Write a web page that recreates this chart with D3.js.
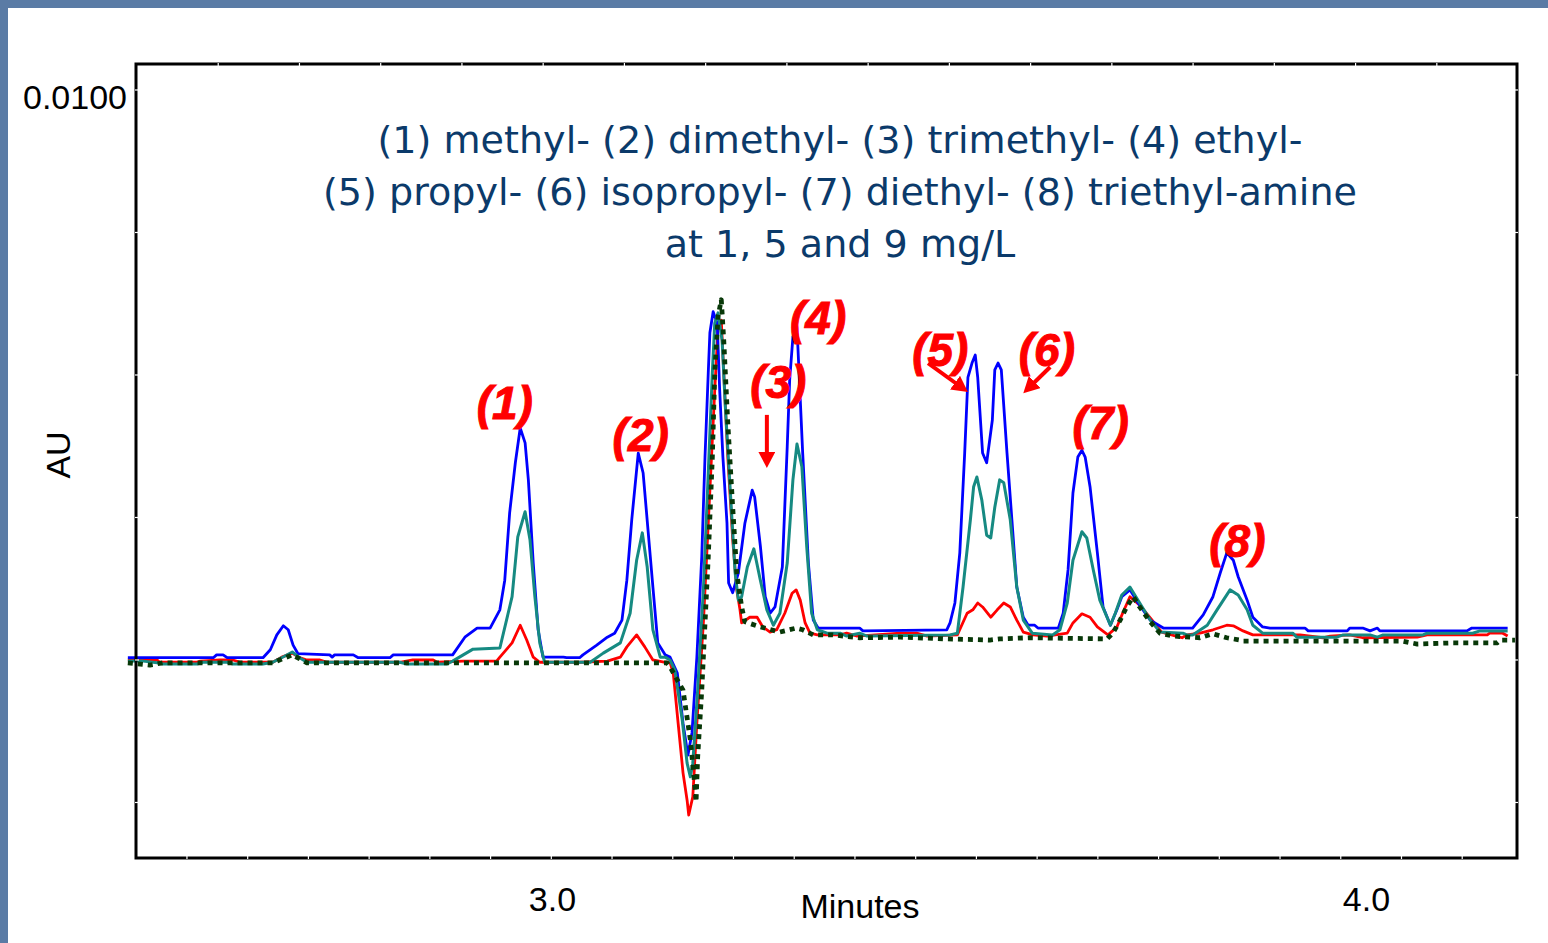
<!DOCTYPE html>
<html><head><meta charset="utf-8">
<script src="https://cdn.jsdelivr.net/npm/d3@7"></script>
<style>html,body{margin:0;padding:0;background:#5a7ba5;overflow:hidden;} svg{display:block;}</style>
</head><body>
<svg id="chart" width="1548" height="943"></svg>
<script>
// ---- DATA (time in minutes, absorbance in mAU) ----
const titleLines = [
  "(1) methyl- (2) dimethyl- (3) trimethyl- (4) ethyl-",
  "(5) propyl- (6) isopropyl- (7) diethyl- (8) triethyl-amine",
  "at 1, 5 and 9 mg/L"
];
const xLabelTicks = [3.0, 4.0];
const yLabelTicks = [10];
const yTickMarks = [-2.5, 0, 2.5, 5, 7.5, 10];
const xDomain = [2.489, 4.1855];
const yDomain = [-3.474, 10.456];

// 9 mg/L (blue)
const conc9 = [
 [2.479,0.04],[2.584,0.04],[2.588,0.09],[2.596,0.09],[2.601,0.04],[2.645,0.04],[2.654,0.18],[2.662,0.44],
 [2.670,0.60],[2.676,0.53],[2.682,0.26],[2.688,0.11],[2.727,0.09],[2.730,0.05],[2.733,0.09],[2.756,0.09],
 [2.762,0.04],[2.801,0.04],[2.805,0.09],[2.878,0.09],[2.893,0.40],[2.908,0.56],[2.924,0.56],[2.936,0.88],
 [2.942,1.40],[2.948,2.58],[2.955,3.46],[2.961,4.07],[2.967,3.81],[2.971,3.16],[2.977,1.70],[2.983,0.53],
 [2.989,0.05],[3.014,0.05],[3.018,0.04],[3.034,0.04],[3.038,0.09],[3.055,0.26],[3.068,0.40],[3.077,0.47],
 [3.086,0.70],[3.092,1.40],[3.098,2.46],[3.106,3.63],[3.112,3.28],[3.118,2.28],[3.124,1.28],[3.130,0.30],
 [3.139,0.09],[3.145,0.05],[3.154,-0.23],[3.161,-1.11],[3.167,-1.67],[3.172,-1.28],[3.178,0.05],[3.184,1.81],
 [3.188,3.56],[3.192,5.04],[3.194,5.74],[3.198,6.11],[3.203,5.91],[3.206,4.74],[3.210,3.56],[3.215,2.40],
 [3.217,1.35],[3.222,1.18],[3.229,1.53],[3.237,2.40],[3.246,2.98],[3.249,2.86],[3.256,2.00],[3.262,1.11],
 [3.268,0.82],[3.274,0.93],[3.283,1.63],[3.289,3.74],[3.292,4.91],[3.296,5.67],[3.301,5.84],[3.303,5.21],
 [3.308,3.63],[3.315,1.70],[3.321,0.70],[3.327,0.56],[3.378,0.56],[3.382,0.51],[3.485,0.53],[3.489,0.65],
 [3.495,1.00],[3.501,1.88],[3.507,3.63],[3.511,4.96],[3.516,5.21],[3.520,5.35],[3.523,4.96],[3.529,3.63],
 [3.534,3.46],[3.541,4.21],[3.544,5.09],[3.548,5.21],[3.552,5.09],[3.559,3.63],[3.565,2.46],[3.571,1.28],
 [3.579,0.75],[3.585,0.61],[3.593,0.61],[3.597,0.56],[3.622,0.56],[3.628,0.82],[3.634,1.58],[3.640,2.93],
 [3.646,3.56],[3.651,3.68],[3.655,3.56],[3.661,3.04],[3.670,1.88],[3.677,0.93],[3.686,0.61],[3.694,0.88],
 [3.700,1.11],[3.710,1.23],[3.720,1.00],[3.735,0.70],[3.751,0.56],[3.787,0.56],[3.800,0.79],[3.812,1.11],
 [3.821,1.53],[3.829,1.88],[3.837,1.75],[3.843,1.46],[3.854,1.05],[3.861,0.75],[3.873,0.58],[3.882,0.56],
 [3.925,0.56],[3.929,0.51],[3.977,0.51],[3.980,0.56],[3.996,0.56],[4.005,0.51],[4.014,0.56],[4.017,0.51],
 [4.124,0.51],[4.130,0.56],[4.174,0.56]
];

// 5 mg/L (teal)
const conc5 = [
 [2.479,-0.02],[2.498,-0.02],[2.515,-0.05],[2.522,-0.07],[2.564,-0.07],[2.571,-0.04],[2.601,-0.04],[2.608,-0.07],
 [2.645,-0.07],[2.657,-0.04],[2.668,0.04],[2.681,0.14],[2.690,0.04],[2.699,-0.04],[2.813,-0.04],[2.822,-0.07],
 [2.871,-0.07],[2.878,-0.02],[2.891,0.09],[2.903,0.19],[2.936,0.21],[2.951,1.11],[2.958,2.16],[2.967,2.60],
 [2.973,2.11],[2.979,1.11],[2.985,0.30],[2.991,-0.04],[3.047,-0.04],[3.063,0.12],[3.084,0.30],[3.096,0.82],
 [3.104,1.75],[3.111,2.23],[3.117,1.63],[3.124,0.53],[3.133,0.05],[3.139,0.05],[3.145,0.00],[3.151,-0.18],
 [3.160,-1.05],[3.166,-1.81],[3.170,-2.05],[3.173,-1.81],[3.179,-0.53],[3.186,1.23],[3.192,3.28],[3.197,5.04],
 [3.200,5.91],[3.204,6.09],[3.209,5.61],[3.213,4.44],[3.219,2.98],[3.225,1.53],[3.229,1.05],[3.233,1.11],
 [3.240,1.63],[3.248,1.95],[3.256,1.40],[3.264,0.88],[3.272,0.61],[3.280,0.82],[3.289,1.70],[3.296,3.16],
 [3.301,3.79],[3.307,3.39],[3.313,1.98],[3.319,0.82],[3.326,0.53],[3.338,0.47],[3.354,0.47],[3.362,0.42],
 [3.378,0.47],[3.387,0.42],[3.489,0.44],[3.498,0.47],[3.505,1.28],[3.514,2.46],[3.518,3.04],[3.522,3.21],
 [3.528,2.81],[3.534,2.19],[3.539,2.14],[3.544,2.68],[3.550,3.16],[3.555,3.11],[3.563,2.46],[3.571,1.28],
 [3.579,0.70],[3.590,0.47],[3.615,0.44],[3.624,0.53],[3.633,1.00],[3.640,1.75],[3.651,2.25],[3.657,2.14],
 [3.665,1.58],[3.673,1.05],[3.686,0.61],[3.692,0.82],[3.700,1.14],[3.710,1.28],[3.722,1.00],[3.735,0.70],
 [3.747,0.49],[3.775,0.47],[3.780,0.44],[3.787,0.44],[3.805,0.61],[3.817,0.88],[3.833,1.23],[3.843,1.14],
 [3.854,0.88],[3.861,0.61],[3.873,0.47],[3.910,0.47],[3.915,0.40],[3.964,0.40],[3.972,0.44],[4.005,0.44],
 [4.014,0.40],[4.021,0.44],[4.070,0.44],[4.075,0.47],[4.131,0.47],[4.140,0.51],[4.174,0.51]
];

// 1 mg/L (red)
const conc1 = [
 [2.479,0.00],[2.515,0.00],[2.518,-0.04],[2.564,-0.04],[2.568,-0.02],[2.592,0.00],[2.608,0.00],[2.617,-0.04],
 [2.657,-0.04],[2.668,0.05],[2.681,0.12],[2.690,0.04],[2.699,0.00],[2.715,0.00],[2.724,-0.04],[2.813,-0.04],
 [2.829,0.00],[2.854,0.00],[2.859,-0.04],[2.891,-0.02],[2.932,-0.02],[2.936,0.05],[2.951,0.30],[2.961,0.61],
 [2.969,0.35],[2.977,0.05],[2.985,-0.04],[3.034,-0.04],[3.068,-0.02],[3.084,0.05],[3.092,0.23],[3.104,0.44],
 [3.114,0.23],[3.124,0.00],[3.139,-0.04],[3.145,-0.04],[3.149,-0.23],[3.155,-1.11],[3.161,-1.98],[3.166,-2.46],
 [3.168,-2.72],[3.173,-2.40],[3.178,-1.11],[3.186,0.65],[3.194,2.98],[3.200,4.74],[3.204,5.84],[3.208,5.96],
 [3.211,5.04],[3.216,3.56],[3.222,2.11],[3.227,1.23],[3.231,0.88],[3.233,0.65],[3.243,0.75],[3.252,0.75],
 [3.259,0.58],[3.268,0.49],[3.276,0.53],[3.286,0.82],[3.295,1.17],[3.300,1.23],[3.305,1.05],[3.311,0.65],
 [3.317,0.47],[3.326,0.44],[3.354,0.44],[3.362,0.47],[3.375,0.42],[3.428,0.47],[3.448,0.47],[3.461,0.42],
 [3.498,0.44],[3.510,0.82],[3.517,0.88],[3.523,1.00],[3.529,0.93],[3.539,0.75],[3.547,0.88],[3.555,1.00],
 [3.563,0.93],[3.571,0.70],[3.579,0.49],[3.591,0.44],[3.608,0.42],[3.633,0.47],[3.640,0.65],[3.651,0.81],
 [3.661,0.75],[3.670,0.58],[3.683,0.44],[3.694,0.58],[3.701,0.82],[3.710,1.11],[3.722,0.96],[3.735,0.74],
 [3.749,0.49],[3.771,0.40],[3.774,0.39],[3.780,0.44],[3.796,0.47],[3.812,0.53],[3.829,0.61],[3.837,0.60],
 [3.849,0.51],[3.861,0.44],[3.919,0.44],[3.947,0.39],[3.956,0.42],[3.980,0.44],[3.996,0.39],[4.063,0.40],
 [4.075,0.44],[4.149,0.44],[4.152,0.47],[4.168,0.47],[4.174,0.42]
];

// blank (dotted)
const blank = [
 [2.479,-0.05],[2.506,-0.09],[2.522,-0.05],[2.657,-0.05],[2.681,0.09],[2.699,-0.05],[3.141,-0.05],[3.145,-0.12],
 [3.161,-0.53],[3.170,-1.40],[3.176,-2.28],[3.177,-2.49],[3.179,-1.70],[3.184,-0.53],[3.188,0.65],[3.192,1.81],
 [3.197,3.56],[3.200,5.04],[3.204,6.02],[3.208,6.32],[3.211,5.61],[3.216,4.16],[3.222,2.68],[3.227,1.53],
 [3.233,0.93],[3.237,0.67],[3.256,0.58],[3.280,0.49],[3.300,0.56],[3.308,0.53],[3.321,0.44],[3.345,0.44],
 [3.378,0.39],[3.428,0.40],[3.485,0.37],[3.538,0.35],[3.550,0.37],[3.587,0.39],[3.682,0.37],[3.689,0.47],
 [3.698,0.70],[3.706,0.93],[3.714,1.11],[3.722,0.93],[3.735,0.67],[3.747,0.47],[3.763,0.42],[3.784,0.40],
 [3.796,0.39],[3.812,0.46],[3.829,0.39],[3.845,0.35],[3.849,0.33],[4.045,0.33],[4.063,0.28],[4.107,0.30],
 [4.161,0.30],[4.165,0.35],[4.183,0.35]
];

const peakLabels = [
 {text:"(1)", t:2.942, v:4.23}, {text:"(2)", t:3.109, v:3.67}, {text:"(3)", t:3.278, v:4.60},
 {text:"(4)", t:3.327, v:5.72}, {text:"(5)", t:3.477, v:5.16}, {text:"(6)", t:3.608, v:5.16},
 {text:"(7)", t:3.674, v:3.88}, {text:"(8)", t:3.842, v:1.81}
];
const arrows = [
 {t1:3.264, v1:4.30, t2:3.264, v2:3.37},
 {t1:3.462, v1:5.21, t2:3.511, v2:4.70},
 {t1:3.612, v1:5.14, t2:3.579, v2:4.68}
];

// ---- LAYOUT ----
const W = 1548, H = 943;
const plot = {left:136, top:64, right:1517, bottom:858};
const svg = d3.select("#chart");

svg.append("rect").attr("x",0).attr("y",0).attr("width",W).attr("height",H).attr("fill","#5a7ba5");
svg.append("rect").attr("x",8).attr("y",8).attr("width",W-8).attr("height",H-8).attr("fill","#ffffff");

const x = d3.scaleLinear().domain(xDomain).range([plot.left, plot.right]);
const y = d3.scaleLinear().domain(yDomain).range([plot.bottom, plot.top]);

// title
const titleG = svg.append("g").attr("fill","#0b3a6a")
  .style("font-family","'DejaVu Sans', Verdana, sans-serif");
const titleBase = [153, 205, 257];
const tlines = titleG.selectAll("text").data(titleLines).join("text")
  .attr("x", 840).attr("y", (d,i)=>titleBase[i]).attr("text-anchor","middle")
  .style("font-size","34px").text(d=>d);
const l2 = tlines.nodes()[1].getComputedTextLength();
const fs = 34 * 1034 / l2;
tlines.style("font-size", fs.toFixed(2)+"px");

// traces
const line = d3.line().x(d=>x(d[0])).y(d=>y(d[1]));
const series = [
  {data:conc1, color:"#ff0000", w:2.8, dash:null},
  {data:conc9, color:"#0000ff", w:2.8, dash:null},
  {data:conc5, color:"#168a82", w:3.0, dash:null},
  {data:blank, color:"#083808", w:4.8, dash:"5,5"}
];
svg.append("g").selectAll("path").data(series).join("path")
  .attr("d", d=>line(d.data)).attr("fill","none")
  .attr("stroke", d=>d.color).attr("stroke-width", d=>d.w)
  .attr("stroke-linejoin","round")
  .attr("stroke-dasharray", d=>d.dash);

// frame
svg.append("rect").attr("x",plot.left).attr("y",plot.top)
  .attr("width",plot.right-plot.left).attr("height",plot.bottom-plot.top)
  .attr("fill","none").attr("stroke","#000").attr("stroke-width",3);

// white notch ticks on the frame
const notch = svg.append("g").attr("stroke","#fff").attr("stroke-width",1.2);
notch.selectAll("line.yl").data(yTickMarks).join("line")
  .attr("x1",plot.left-1).attr("x2",plot.left+3).attr("y1",d=>y(d)).attr("y2",d=>y(d));
notch.selectAll("line.yr").data(yTickMarks).join("line")
  .attr("x1",plot.right-3).attr("x2",plot.right+1).attr("y1",d=>y(d)).attr("y2",d=>y(d));
const bottomNotches = d3.range(2.5516, 4.18, 0.0746);
const topNotches = d3.range(2.590, 4.18, 0.0998);
notch.selectAll("line.xb").data(bottomNotches).join("line")
  .attr("x1",d=>x(d)).attr("x2",d=>x(d)).attr("y1",plot.bottom-3).attr("y2",plot.bottom+1);
notch.selectAll("line.xt").data(topNotches).join("line")
  .attr("x1",d=>x(d)).attr("x2",d=>x(d)).attr("y1",plot.top-1).attr("y2",plot.top+3);

// axes labels via d3 axes
const axisFont = "'Liberation Sans', Arial, sans-serif";
const xAxis = svg.append("g").attr("transform",`translate(0,${plot.bottom})`)
  .call(d3.axisBottom(x).tickValues(xLabelTicks).tickSize(0).tickPadding(29).tickFormat(d3.format(".1f")));
xAxis.select(".domain").remove();
xAxis.selectAll("text").style("font-family",axisFont).style("font-size","34px").attr("fill","#000");

const yAxis = svg.append("g").attr("transform",`translate(${plot.left},0)`)
  .call(d3.axisLeft(y).tickValues(yLabelTicks).tickSize(0).tickPadding(9).tickFormat(d=>(d/1000).toFixed(4)));
yAxis.select(".domain").remove();
yAxis.selectAll("text").style("font-family",axisFont).style("font-size","34px").attr("fill","#000").attr("dy","0.53em");

svg.append("text").attr("x",860).attr("y",918).attr("text-anchor","middle")
  .style("font-family",axisFont).style("font-size","34px").text("Minutes");
svg.append("text").attr("transform","translate(70,455) rotate(-90)").attr("text-anchor","middle")
  .style("font-family",axisFont).style("font-size","34px").text("AU");

// peak labels
svg.append("g").selectAll("text").data(peakLabels).join("text")
  .attr("x",d=>x(d.t)).attr("y",d=>y(d.v)).attr("text-anchor","middle")
  .attr("fill","#ff0000").attr("stroke","#ff0000").attr("stroke-width",1)
  .style("font-family",axisFont).style("font-size","46px").style("font-weight","bold").style("font-style","italic")
  .text(d=>d.text);

// arrows
const defs = svg.append("defs");
defs.append("marker").attr("id","ah").attr("markerUnits","userSpaceOnUse")
  .attr("markerWidth",18).attr("markerHeight",18).attr("refX",1).attr("refY",8.5)
  .attr("orient","auto")
  .append("path").attr("d","M0,0 L16,8.5 L0,17 Z").attr("fill","#ff0000");
const headLen = 15;
svg.append("g").selectAll("line").data(arrows).join("line")
  .each(function(d){
    const x1=x(d.t1), y1=y(d.v1), x2=x(d.t2), y2=y(d.v2);
    const L=Math.hypot(x2-x1,y2-y1);
    const ex = x2-(x2-x1)/L*headLen, ey = y2-(y2-y1)/L*headLen;
    d3.select(this).attr("x1",x1).attr("y1",y1).attr("x2",ex).attr("y2",ey);
  })
  .attr("stroke","#ff0000").attr("stroke-width",4).attr("marker-end","url(#ah)");
</script>
</body></html>
